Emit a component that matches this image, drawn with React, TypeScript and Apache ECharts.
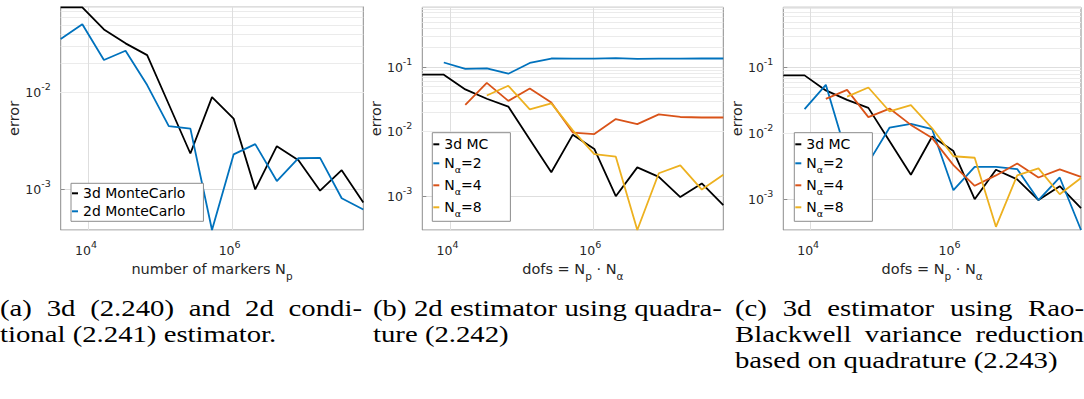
import React, { useEffect, useRef } from 'react';
import * as echarts from 'echarts';

// ---------- data ----------
const np = [4096, 8192, 16384, 32768, 65536, 131072, 262144, 524288, 1048576, 2097152, 4194304, 8388608, 16777216, 33554432, 67108864];
const mc3d = [0.0765, 0.0765, 0.0452, 0.0324, 0.0245, 0.0076, 0.00235, 0.009, 0.0054, 0.001, 0.0028, 0.002, 0.00097, 0.00158, 0.00073];
const mc2d = [0.0359, 0.051, 0.0218, 0.0272, 0.012, 0.00452, 0.00425, 0.00038, 0.0023, 0.00294, 0.00122, 0.0021, 0.00212, 0.00081, 0.00062];
// panel b: 2d estimator with quadrature (dofs start at 2^13, 2^14, 2^15)
const quadN2 = [0.118, 0.094, 0.096, 0.079, 0.116, 0.136, 0.135, 0.135, 0.138, 0.134, 0.135, 0.135, 0.136, 0.136];
const quadN4 = [0.026, 0.057, 0.03, 0.0467, 0.0284, 0.0097, 0.0092, 0.0157, 0.0131, 0.0185, 0.0169, 0.0166, 0.0166];
const quadN8 = [0.0363, 0.0514, 0.0221, 0.0274, 0.0105, 0.0045, 0.0041, 0.0003, 0.00227, 0.003, 0.00127, 0.00216];
// panel c: Rao-Blackwell
const raoN2 = [0.0234, 0.055, 0.0045, 0.0036, 0.0123, 0.014, 0.0116, 0.00137, 0.00311, 0.00311, 0.00287, 0.00097, 0.00214, 0.00034];
const raoN4 = [0.0336, 0.046, 0.0177, 0.0239, 0.0135, 0.0085, 0.0033, 0.0016, 0.0023, 0.0035, 0.00214, 0.00284, 0.00219];
const raoN8 = [0.0364, 0.05, 0.0216, 0.027, 0.012, 0.0045, 0.00427, 0.00038, 0.0023, 0.00295, 0.00119, 0.0021];

const yRanges = [
  [0.00038, 0.0776],
  [0.0003, 0.845],
  [0.00034, 0.83],
];
const xRange = [4096, 67108864];
const xGridValues = [1e4, 1e6];

const captions = [
  { x0: 0, x1: 362, lines: [['(a)', '3d', '(2.240)', 'and', '2d', 'condi-'], ['tional', '(2.241)', 'estimator.']] },
  { x0: 373, x1: 722, lines: [['(b)', '2d', 'estimator', 'using', 'quadra-'], ['ture', '(2.242)']] },
  { x0: 735, x1: 1084, lines: [['(c)', '3d', 'estimator', 'using', 'Rao-'], ['Blackwell', 'variance', 'reduction'], ['based', 'on', 'quadrature', '(2.243)']] },
];
const captionLineY = [308, 334, 360];

// ---------- styling ----------
const FONT = 'DejaVu Sans';
const TXT = '#262626';
const FRAME = '#8c8c8c';
const C_BLACK = '#000000';
const C_BLUE = '#0072BD';
const C_RED = '#D95319';
const C_YEL = '#EDB120';
const CAP_FONT = 'Liberation Serif';
const CAP_SIZE = 23;
const CAP_SCALE_X = 1.25;

const grids = [
  { left: 60.7, top: 6.7, width: 302.6, height: 223.3 },
  { left: 422.3, top: 7.3, width: 301, height: 222.7 },
  { left: 783.3, top: 7.3, width: 302, height: 222.7 },
];

function pairsFrom(start: number, ys: number[]) {
  return ys.map((y, i) => [np[start + i], y]);
}

function powLabel(isX: boolean) {
  return (v: number) => {
    const e = Math.log10(v);
    const r = Math.round(e);
    if (Math.abs(e - r) > 1e-6) return '';
    if (isX && r % 2 !== 0) return '';
    return `{b|10}{sup|${r}}`;
  };
}
const tickRich = {
  b: { fontSize: 12.5, fontFamily: FONT, color: TXT },
  sup: { fontSize: 9.5, fontFamily: FONT, color: TXT, padding: [0, 0, 12, 0] },
};

function minorValues(min: number, max: number) {
  const out: number[] = [];
  for (let e = -5; e <= 1; e++) {
    for (let m = 2; m <= 9; m++) {
      const v = m * Math.pow(10, e);
      if (v > min && v < max) out.push(v);
    }
  }
  return out;
}

export default function App() {
  const ref = useRef<HTMLDivElement>(null);
  useEffect(() => {
    if (!ref.current) return;
    const chart = echarts.init(ref.current, undefined, { renderer: 'svg' });

    const xAxes = grids.map((_, i) => ({
      type: 'log',
      gridIndex: i,
      min: xRange[0],
      max: xRange[1],
      axisLine: { show: false },
      axisTick: { show: false },
      splitLine: { show: false },
      axisLabel: { formatter: powLabel(true), margin: 9, rich: tickRich, padding: [0, 5, 0, 0] },
      name: i === 0 ? 'number of markers N{s|p}' : 'dofs = N{s|p} · N{s|α}',
      nameLocation: 'middle',
      nameGap: 22,
      nameTextStyle: {
        fontFamily: FONT, fontSize: 14.5, color: TXT,
        rich: {
          s: { fontSize: 10.5, fontFamily: FONT, color: TXT, padding: [14, 0, 0, 0] },
        },
      },
    }));
    const yAxes = grids.map((_, i) => ({
      type: 'log',
      gridIndex: i,
      min: yRanges[i][0],
      max: yRanges[i][1],
      axisLine: { show: false },
      axisTick: { show: true, inside: true, length: 4, lineStyle: { color: FRAME } },
      splitLine: { show: true, lineStyle: { color: '#dedede', width: 1 } },
      axisLabel: { formatter: powLabel(false), margin: 10, rich: tickRich, showMinLabel: false, showMaxLabel: false },
      name: 'error',
      nameLocation: 'middle',
      nameGap: 35,
      nameTextStyle: { fontFamily: FONT, fontSize: 14.5, color: TXT },
    }));

    const line = (name: string, gi: number, data: number[][], color: string) => ({
      type: 'line',
      name,
      xAxisIndex: gi,
      yAxisIndex: gi,
      data,
      symbol: 'none',
      showSymbol: false,
      silent: true,
      z: 5,
      lineStyle: { color, width: 1.8 },
      itemStyle: { color },
      emphasis: { disabled: true },
    });

    const gridSeries = grids.map((_, i) => ({
      type: 'line',
      name: `__grid${i}`,
      xAxisIndex: i,
      yAxisIndex: i,
      data: [],
      silent: true,
      z: 1,
      markLine: {
        silent: true,
        z: 1,
        symbol: ['none', 'none'],
        label: { show: false },
        emphasis: { disabled: true },
        animation: false,
        lineStyle: { color: '#ebebeb', width: 1, type: 'solid' },
        data: [
          ...minorValues(yRanges[i][0], yRanges[i][1]).map((v) => ({ yAxis: v })),
          ...xGridValues.map((v) => ({ xAxis: v, lineStyle: { color: '#dedede' } })),
        ],
      },
    }));

    const series = [
      ...gridSeries,
      line('3d MonteCarlo', 0, pairsFrom(0, mc3d), C_BLACK),
      line('2d MonteCarlo', 0, pairsFrom(0, mc2d), C_BLUE),
      line('3d MC', 1, pairsFrom(0, mc3d), C_BLACK),
      line('N_α=2', 1, pairsFrom(1, quadN2), C_BLUE),
      line('N_α=4', 1, pairsFrom(2, quadN4), C_RED),
      line('N_α=8', 1, pairsFrom(3, quadN8), C_YEL),
      line('3d MC', 2, pairsFrom(0, mc3d), C_BLACK),
      line('N_α=2', 2, pairsFrom(1, raoN2), C_BLUE),
      line('N_α=4', 2, pairsFrom(2, raoN4), C_RED),
      line('N_α=8', 2, pairsFrom(3, raoN8), C_YEL),
    ];

    const legendFormatter = (name: string) =>
      name.startsWith('N_α') ? `{b|N}{s|α}{b|${name.slice(3)}}` : `{b|${name}}`;
    const legendBase = {
      orient: 'vertical',
      selectedMode: false,
      icon: 'rect',
      itemWidth: 6,
      itemHeight: 2,
      backgroundColor: '#ffffff',
      borderColor: FRAME,
      borderWidth: 1,
      borderRadius: 0,
      formatter: legendFormatter,
      z: 10,
    };
    const legends = [
      {
        ...legendBase,
        left: 71,
        top: 183.3,
        itemGap: 2,
        padding: [2, 18, 2, 1],
        data: ['3d MonteCarlo', '2d MonteCarlo'],
        textStyle: {
          fontFamily: FONT, fontSize: 14, lineHeight: 16, color: '#000',
          rich: { b: { fontFamily: FONT, fontSize: 14, lineHeight: 16, color: '#000' } },
        },
      },
      ...[432.3, 794.3].map((left) => ({
        ...legendBase,
        left,
        top: 132.7,
        itemGap: 0,
        padding: [3.6, 22, 3, 1],
        data: ['3d MC', 'N_α=2', 'N_α=4', 'N_α=8'],
        textStyle: {
          fontFamily: FONT, fontSize: 14, lineHeight: 16, color: '#000',
          rich: {
            b: { fontFamily: FONT, fontSize: 14, lineHeight: 16, color: '#000' },
            s: { fontFamily: FONT, fontSize: 9.5, lineHeight: 10, color: '#000', padding: [12, 0, 0, 0] },
          },
        },
      })),
    ];

    // captions (justified like the LaTeX source)
    const canvas = document.createElement('canvas');
    const ctx = canvas.getContext('2d')!;
    ctx.font = `${CAP_SIZE}px "${CAP_FONT}"`;
    const spaceW = ctx.measureText(' ').width * CAP_SCALE_X;
    const graphic: any[] = [];
    captions.forEach((cap) => {
      cap.lines.forEach((words, li) => {
        const widths = words.map((w) => ctx.measureText(w).width * CAP_SCALE_X);
        const total = widths.reduce((a, b) => a + b, 0);
        const isLast = li === cap.lines.length - 1;
        const gap = !isLast && words.length > 1 ? (cap.x1 - cap.x0 - total) / (words.length - 1) : spaceW;
        let x = cap.x0;
        words.forEach((w, wi) => {
          graphic.push({
            type: 'text',
            x,
            y: captionLineY[li],
            scaleX: CAP_SCALE_X,
            silent: true,
            style: {
              text: w, fontFamily: CAP_FONT, fontSize: CAP_SIZE, lineHeight: 25,
              fill: '#000', verticalAlign: 'middle', align: 'left',
            },
          });
          x += widths[wi] + gap;
        });
      });
    });

    chart.setOption({
      animation: false,
      grid: grids.map((g) => ({ ...g, show: true, borderColor: FRAME, borderWidth: 1, backgroundColor: 'transparent' })),
      xAxis: xAxes,
      yAxis: yAxes,
      legend: legends,
      series,
      graphic,
    } as any);

    return () => chart.dispose();
  }, []);

  return <div ref={ref} style={{ position: 'absolute', left: 0, top: 0, width: 1084, height: 399 }} />;
}
